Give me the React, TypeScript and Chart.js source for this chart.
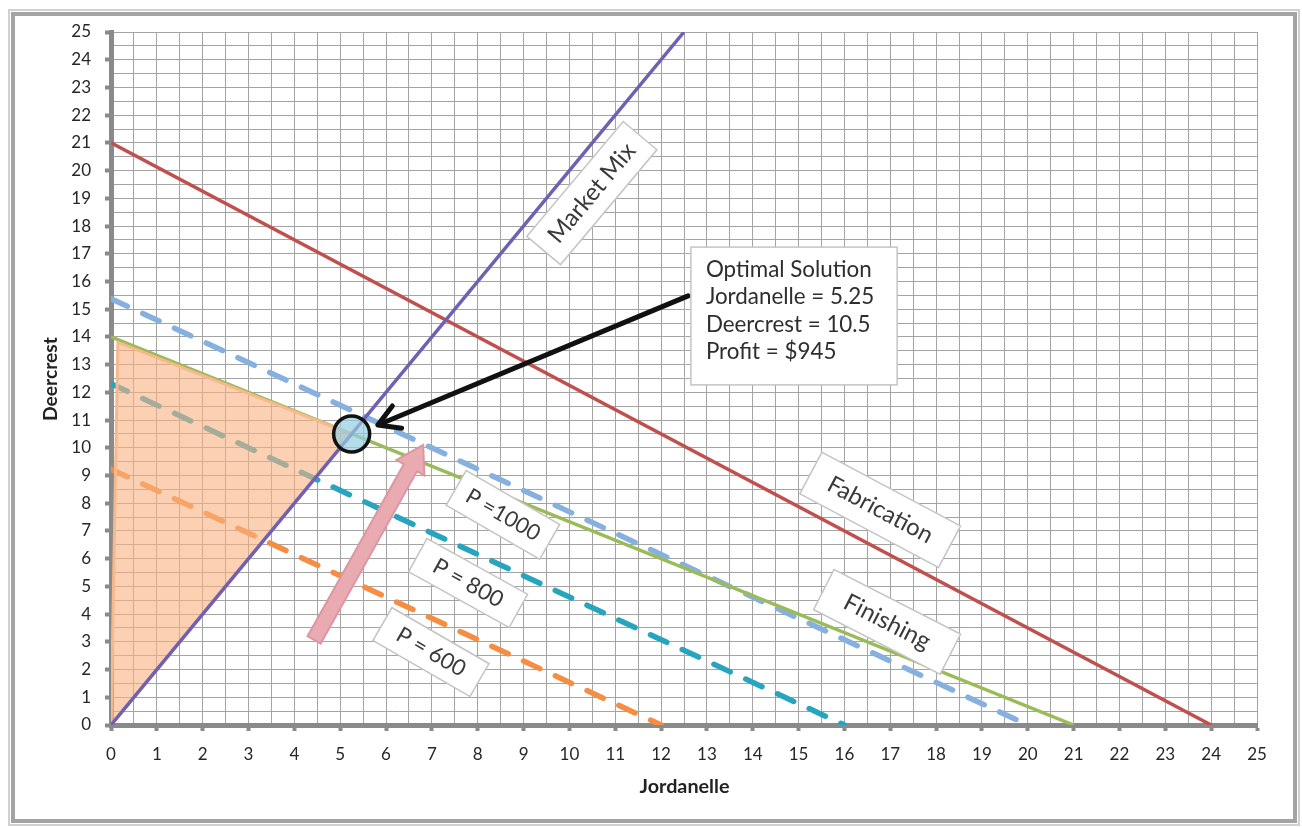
import React, { useEffect, useRef } from 'react';
import { Chart, registerables } from 'chart.js';

Chart.register(...registerables);

// ---- data ----
const fabricationX = [0, 24];
const fabricationY = [21, 0];
const finishingX = [0, 21];
const finishingY = [14, 0];
const marketMixX = [0, 12.5];
const marketMixY = [0, 25];
const p1000X = [0, 20];
const p1000Y = [15.38, 0];
const p800X = [0, 16];
const p800Y = [12.31, 0];
const p600X = [0, 12];
const p600Y = [9.23, 0];
const feasibleX = [0, 0.15, 5.25, 0];
const feasibleY = [0, 13.8, 10.5, 0];
const optimalX = [5.25];
const optimalY = [10.5];
const pinkArrowX = [4.43, 6.81];
const pinkArrowY = [3.07, 10.1];
const blackArrowX = [12.59, 5.82];
const blackArrowY = [15.48, 10.82];
const infoLines = ['Optimal Solution', 'Jordanelle = 5.25', 'Deercrest = 10.5', 'Profit = $945'];
const axisMin = 0;
const axisMax = 25;
const gridStep = 0.5;

const labelTexts = ['Market Mix', 'Fabrication', 'Finishing', 'P =1000', 'P = 800', 'P = 600'];
const labelX = [10.49, 16.78, 16.93, 8.55, 7.79, 6.98];
const labelY = [19.19, 7.76, 3.72, 7.58, 5.12, 2.63];

// ---- styles ----
const labelStyle = [
  { w: 150, h: 44, angle: -50, textW: 122 },
  { w: 157, h: 47, angle: 28, textW: 116 },
  { w: 142, h: 45, angle: 27, textW: 94 },
  { w: 108, h: 40, angle: 30, textW: 82 },
  { w: 115, h: 38, angle: 29, textW: 77 },
  { w: 112, h: 38, angle: 30, textW: 76 },
];
const FONT = 'Lato';

const pts = (xs: number[], ys: number[]) => xs.map((x, i) => ({ x, y: ys[i] }));

function fitSize(ctx: CanvasRenderingContext2D, text: string, targetW: number, weight: string) {
  ctx.font = `${weight} 100px ${FONT}`;
  const w = ctx.measureText(text).width;
  return (100 * targetW) / w;
}

const overlayPlugin = {
  id: 'overlay',
  beforeDraw(chart: any) {
    const ctx = chart.ctx as CanvasRenderingContext2D;
    ctx.save();
    ctx.fillStyle = '#ffffff';
    ctx.fillRect(0, 0, chart.width, chart.height);
    ctx.strokeStyle = '#d0d0d0';
    ctx.lineWidth = 2;
    ctx.strokeRect(9, 10, 1290, 815);
    ctx.strokeStyle = '#a3a3a3';
    ctx.lineWidth = 4;
    ctx.strokeRect(13, 14, 1282, 807);
    ctx.restore();
  },
  afterDatasetsDraw(chart: any) {
    const ctx = chart.ctx as CanvasRenderingContext2D;
    const xs = chart.scales.x;
    const ys = chart.scales.y;
    const px = (v: number) => xs.getPixelForValue(v);
    const py = (v: number) => ys.getPixelForValue(v);

    // pink block arrow
    {
      const x1 = px(pinkArrowX[0]), y1 = py(pinkArrowY[0]);
      const x2 = px(pinkArrowX[1]), y2 = py(pinkArrowY[1]);
      const ang = Math.atan2(y2 - y1, x2 - x1);
      const len = Math.hypot(x2 - x1, y2 - y1);
      const bw = 15, hw = 32, hl = 26;
      ctx.save();
      ctx.translate(x1, y1);
      ctx.rotate(ang);
      ctx.beginPath();
      ctx.moveTo(0, -bw / 2);
      ctx.lineTo(len - hl, -bw / 2);
      ctx.lineTo(len - hl, -hw / 2);
      ctx.lineTo(len, 0);
      ctx.lineTo(len - hl, hw / 2);
      ctx.lineTo(len - hl, bw / 2);
      ctx.lineTo(0, bw / 2);
      ctx.closePath();
      ctx.fillStyle = '#e9aab1';
      ctx.fill();
      ctx.strokeStyle = '#dc98a1';
      ctx.lineWidth = 2;
      ctx.stroke();
      ctx.restore();
    }

    // black arrow
    {
      const x1 = px(blackArrowX[0]), y1 = py(blackArrowY[0]);
      const x2 = px(blackArrowX[1]), y2 = py(blackArrowY[1]);
      const ang = Math.atan2(y2 - y1, x2 - x1);
      ctx.save();
      ctx.strokeStyle = '#111111';
      ctx.lineWidth = 5;
      ctx.lineCap = 'round';
      ctx.lineJoin = 'round';
      ctx.beginPath();
      ctx.moveTo(x1, y1);
      ctx.lineTo(x2 + Math.cos(ang) * -2, y2 + Math.sin(ang) * -2);
      ctx.stroke();
      const wl = 24, wa = Math.PI / 6;
      ctx.beginPath();
      ctx.moveTo(x2 - wl * Math.cos(ang - wa), y2 - wl * Math.sin(ang - wa));
      ctx.lineTo(x2, y2);
      ctx.lineTo(x2 - wl * Math.cos(ang + wa), y2 - wl * Math.sin(ang + wa));
      ctx.stroke();
      ctx.restore();
    }

    // rotated labels
    labelTexts.forEach((t, i) => {
      const s = labelStyle[i];
      const cx = px(labelX[i]), cy = py(labelY[i]);
      ctx.save();
      ctx.translate(cx, cy);
      ctx.rotate((s.angle * Math.PI) / 180);
      ctx.fillStyle = '#ffffff';
      ctx.fillRect(-s.w / 2, -s.h / 2, s.w, s.h);
      ctx.strokeStyle = '#c4c4c4';
      ctx.lineWidth = 1.5;
      ctx.strokeRect(-s.w / 2, -s.h / 2, s.w, s.h);
      const size = fitSize(ctx, t, s.textW, 'normal');
      ctx.font = `normal ${size}px ${FONT}`;
      ctx.fillStyle = '#3a3a3a';
      ctx.textAlign = 'center';
      ctx.textBaseline = 'middle';
      ctx.fillText(t, 0, 0);
      ctx.restore();
    });

    // info box
    {
      const left = px(12.65), top = py(17.24);
      const right = px(17.15), bottom = py(12.27);
      ctx.save();
      ctx.fillStyle = '#ffffff';
      ctx.fillRect(left, top, right - left, bottom - top);
      ctx.strokeStyle = '#c4c4c4';
      ctx.lineWidth = 1.5;
      ctx.strokeRect(left, top, right - left, bottom - top);
      const size = fitSize(ctx, infoLines[0], 166, 'normal');
      ctx.font = `normal ${size}px ${FONT}`;
      ctx.fillStyle = '#2e2e2e';
      ctx.textAlign = 'left';
      ctx.textBaseline = 'middle';
      const offs = [23, 50, 78, 105];
      infoLines.forEach((l, i) => ctx.fillText(l, left + 15, top + offs[i]));
      ctx.restore();
    }

    // axis titles
    {
      ctx.save();
      ctx.fillStyle = '#222222';
      ctx.textAlign = 'center';
      ctx.textBaseline = 'middle';
      let size = fitSize(ctx, 'Jordanelle', 90, 'bold');
      ctx.font = `bold ${size}px ${FONT}`;
      ctx.fillText('Jordanelle', (xs.left + xs.right) / 2 + 0.5, 787);
      size = fitSize(ctx, 'Deercrest', 84, 'bold');
      ctx.font = `bold ${size}px ${FONT}`;
      ctx.translate(51, 379);
      ctx.rotate(-Math.PI / 2);
      ctx.fillText('Deercrest', 0, 0);
      ctx.restore();
    }
  },
};

const tickColor = (c: any) =>
  c.tick && Number.isInteger(c.tick.value) ? '#8a8a8a' : 'rgba(0,0,0,0)';

export default function App() {
  const ref = useRef<HTMLCanvasElement | null>(null);
  useEffect(() => {
    if (!ref.current) return;
    const lineDs = (label: string, xs: number[], ys: number[], color: string, width: number, order: number, dash?: number[]) => ({
      label,
      data: pts(xs, ys),
      borderColor: color,
      backgroundColor: color,
      borderWidth: width,
      borderDash: dash || [],
      borderCapStyle: dash ? 'round' : 'butt',
      pointRadius: 0,
      fill: false,
      tension: 0,
      order,
    });
    const chart = new Chart(ref.current, {
      type: 'line',
      data: {
        datasets: [
          {
            label: 'Optimal',
            data: pts(optimalX, optimalY),
            showLine: false,
            pointRadius: 18,
            pointHoverRadius: 18,
            pointBorderWidth: 3.5,
            pointBorderColor: '#111111',
            pointBackgroundColor: 'rgba(150,205,225,0.7)',
            order: 0,
          } as any,
          lineDs('Market Mix', marketMixX, marketMixY, '#6f60b2', 3.5, 1),
          {
            label: 'Feasible',
            data: pts(feasibleX, feasibleY),
            borderColor: '#f7b98c',
            borderWidth: 3,
            backgroundColor: 'rgba(250,178,128,0.6)',
            pointRadius: 0,
            fill: 'shape',
            tension: 0,
            order: 2,
          } as any,
          lineDs('Fabrication', fabricationX, fabricationY, '#c0504d', 3.5, 3),
          lineDs('Finishing', finishingX, finishingY, '#9bbb59', 3.5, 3),
          lineDs('P=1000', p1000X, p1000Y, '#86b1df', 5.5, 4, [18, 17]),
          lineDs('P=800', p800X, p800Y, '#27a4be', 5.5, 4, [18, 17]),
          lineDs('P=600', p600X, p600Y, '#f58d42', 5.5, 4, [18, 17]),
        ] as any,
      },
      options: {
        animation: false,
        responsive: false,
        devicePixelRatio: 1,
        layout: { padding: { left: 0, top: 32, right: 45, bottom: 0 } },
        plugins: { legend: { display: false }, tooltip: { enabled: false } },
        events: [],
        scales: {
          x: {
            type: 'linear',
            min: axisMin,
            max: axisMax,
            afterFit: (s: any) => { s.height = 102; },
            ticks: {
              stepSize: gridStep,
              maxTicksLimit: 200,
              autoSkip: false,
              maxRotation: 0,
              padding: 13,
              color: '#262626',
              font: { family: FONT, size: 17 },
              callback: (v: any) => (Number.isInteger(v) ? String(v) : ''),
            },
            grid: { color: '#a4a4a4', lineWidth: 1, tickLength: 6, tickWidth: 4, tickColor },
            border: { color: '#8a8a8a', width: 5 },
          },
          y: {
            type: 'linear',
            min: axisMin,
            max: axisMax,
            afterFit: (s: any) => { s.width = 111; },
            ticks: {
              stepSize: gridStep,
              maxTicksLimit: 200,
              autoSkip: false,
              padding: 14,
              color: '#262626',
              font: { family: FONT, size: 17 },
              callback: (v: any) => (Number.isInteger(v) ? String(v) : ''),
            },
            grid: { color: '#a4a4a4', lineWidth: 1, tickLength: 6, tickWidth: 4, tickColor },
            border: { color: '#8a8a8a', width: 5 },
          },
        },
      } as any,
      plugins: [overlayPlugin],
    });
    return () => chart.destroy();
  }, []);
  return (
    <div style={{ position: 'fixed', left: 0, top: 0, width: 1302, height: 827, background: '#fff' }}>
      <canvas ref={ref} width={1302} height={827} style={{ display: 'block', width: 1302, height: 827 }} />
    </div>
  );
}
